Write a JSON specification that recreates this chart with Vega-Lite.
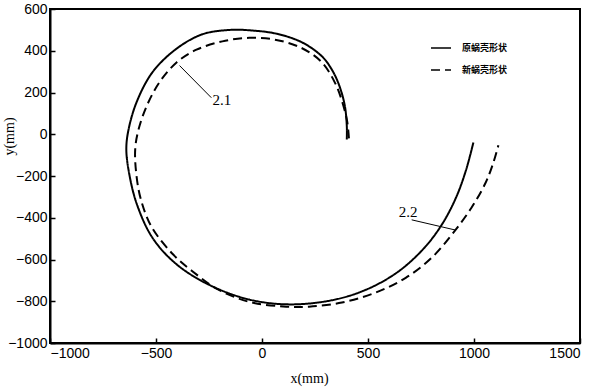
{
  "$schema": "https://vega.github.io/schema/vega-lite/v6.json",
  "width": 530,
  "height": 334,
  "autosize": {"type": "none"},
  "padding": {"left": 50, "top": 9, "right": 20, "bottom": 44},
  "background": "white",
  "config": {
    "view": {"stroke": "black", "strokeWidth": 2},
    "axis": {
      "domainColor": "black",
      "domainWidth": 2,
      "tickColor": "black",
      "tickWidth": 1.5,
      "tickSize": -5,
      "labelPadding": 8,
      "labelFont": "Liberation Sans",
      "labelFontSize": 14,
      "labelColor": "black",
      "format": "d",
      "grid": false,
      "titleFont": "Liberation Serif",
      "titleFontSize": 14,
      "titleFontWeight": "normal",
      "titleColor": "black"
    }
  },
  "datasets": {
    "curves": [
      {"series": "原蜗壳形状", "i": 1, "x": 400, "y": -25},
      {"series": "原蜗壳形状", "i": 2, "x": 400, "y": 40},
      {"series": "原蜗壳形状", "i": 3, "x": 390, "y": 140},
      {"series": "原蜗壳形状", "i": 4, "x": 362, "y": 240},
      {"series": "原蜗壳形状", "i": 5, "x": 328, "y": 312},
      {"series": "原蜗壳形状", "i": 6, "x": 283, "y": 373},
      {"series": "原蜗壳形状", "i": 7, "x": 189, "y": 440},
      {"series": "原蜗壳形状", "i": 8, "x": 67, "y": 482},
      {"series": "原蜗壳形状", "i": 9, "x": -60, "y": 498},
      {"series": "原蜗壳形状", "i": 10, "x": -150, "y": 500},
      {"series": "原蜗壳形状", "i": 11, "x": -281, "y": 479},
      {"series": "原蜗壳形状", "i": 12, "x": -403, "y": 410},
      {"series": "原蜗壳形状", "i": 13, "x": -516, "y": 298},
      {"series": "原蜗壳形状", "i": 14, "x": -591, "y": 155},
      {"series": "原蜗壳形状", "i": 15, "x": -630, "y": 20},
      {"series": "原蜗壳形状", "i": 16, "x": -640, "y": -70},
      {"series": "原蜗壳形状", "i": 17, "x": -628, "y": -180},
      {"series": "原蜗壳形状", "i": 18, "x": -591, "y": -333},
      {"series": "原蜗壳形状", "i": 19, "x": -516, "y": -497},
      {"series": "原蜗壳形状", "i": 20, "x": -403, "y": -623},
      {"series": "原蜗壳形状", "i": 21, "x": -248, "y": -722},
      {"series": "原蜗壳形状", "i": 22, "x": -60, "y": -792},
      {"series": "原蜗壳形状", "i": 23, "x": 130, "y": -815},
      {"series": "原蜗壳形状", "i": 24, "x": 330, "y": -795},
      {"series": "原蜗壳形状", "i": 25, "x": 490, "y": -745},
      {"series": "原蜗壳形状", "i": 26, "x": 640, "y": -660},
      {"series": "原蜗壳形状", "i": 27, "x": 765, "y": -545},
      {"series": "原蜗壳形状", "i": 28, "x": 850, "y": -430},
      {"series": "原蜗壳形状", "i": 29, "x": 915, "y": -304},
      {"series": "原蜗壳形状", "i": 30, "x": 962, "y": -173},
      {"series": "原蜗壳形状", "i": 31, "x": 997, "y": -40},
      {"series": "新蜗壳形状", "i": 1, "x": 410, "y": -20},
      {"series": "新蜗壳形状", "i": 2, "x": 402, "y": 60},
      {"series": "新蜗壳形状", "i": 3, "x": 380, "y": 150},
      {"series": "新蜗壳形状", "i": 4, "x": 345, "y": 245},
      {"series": "新蜗壳形状", "i": 5, "x": 283, "y": 344},
      {"series": "新蜗壳形状", "i": 6, "x": 189, "y": 412},
      {"series": "新蜗壳形状", "i": 7, "x": 67, "y": 452},
      {"series": "新蜗壳形状", "i": 8, "x": -60, "y": 462},
      {"series": "新蜗壳形状", "i": 9, "x": -187, "y": 445},
      {"series": "新蜗壳形状", "i": 10, "x": -309, "y": 405},
      {"series": "新蜗壳形状", "i": 11, "x": -403, "y": 344},
      {"series": "新蜗壳形状", "i": 12, "x": -483, "y": 250},
      {"series": "新蜗壳形状", "i": 13, "x": -544, "y": 135},
      {"series": "新蜗壳形状", "i": 14, "x": -583, "y": 20},
      {"series": "新蜗壳形状", "i": 15, "x": -598, "y": -70},
      {"series": "新蜗壳形状", "i": 16, "x": -594, "y": -180},
      {"series": "新蜗壳形状", "i": 17, "x": -572, "y": -310},
      {"series": "新蜗壳形状", "i": 18, "x": -520, "y": -445},
      {"series": "新蜗壳形状", "i": 19, "x": -420, "y": -575},
      {"series": "新蜗壳形状", "i": 20, "x": -330, "y": -655},
      {"series": "新蜗壳形状", "i": 21, "x": -210, "y": -742},
      {"series": "新蜗壳形状", "i": 22, "x": -60, "y": -803},
      {"series": "新蜗壳形状", "i": 23, "x": 100, "y": -825},
      {"series": "新蜗壳形状", "i": 24, "x": 222, "y": -826},
      {"series": "新蜗壳形状", "i": 25, "x": 377, "y": -806},
      {"series": "新蜗壳形状", "i": 26, "x": 537, "y": -758},
      {"series": "新蜗壳形状", "i": 27, "x": 678, "y": -688},
      {"series": "新蜗壳形状", "i": 28, "x": 800, "y": -592},
      {"series": "新蜗壳形状", "i": 29, "x": 900, "y": -475},
      {"series": "新蜗壳形状", "i": 30, "x": 988, "y": -352},
      {"series": "新蜗壳形状", "i": 31, "x": 1053, "y": -236},
      {"series": "新蜗壳形状", "i": 32, "x": 1090, "y": -140},
      {"series": "新蜗壳形状", "i": 33, "x": 1115, "y": -53}
    ],
    "leaders": [
      {"x": -389, "y": 329, "x2": -239, "y2": 175},
      {"x": 706, "y": -410, "x2": 913, "y2": -459}
    ],
    "labels": [
      {"x": -234, "y": 141, "label": "2.1"},
      {"x": 645, "y": -396, "label": "2.2"}
    ]
  },
  "layer": [
    {
      "data": {"name": "curves"},
      "mark": {"type": "line", "interpolate": "catmull-rom", "strokeWidth": 2, "color": "black"},
      "encoding": {
        "x": {
          "field": "x", "type": "quantitative",
          "scale": {"domain": [-1000, 1500], "nice": false, "zero": false},
          "axis": {"values": [-1000, -500, 0, 500, 1000, 1500], "title": "x(mm)", "titleX": 259, "titleY": 28, "titleBaseline": "top"}
        },
        "y": {
          "field": "y", "type": "quantitative",
          "scale": {"domain": [-1000, 600], "nice": false, "zero": false},
          "axis": {"values": [-1000, -800, -600, -400, -200, 0, 200, 400, 600], "title": "y(mm)", "titleX": -41, "titleY": 127, "titleBaseline": "middle", "titleAngle": -90}
        },
        "order": {"field": "i", "type": "quantitative"},
        "detail": {"field": "series"},
        "strokeDash": {
          "field": "series", "type": "nominal",
          "scale": {"domain": ["原蜗壳形状", "新蜗壳形状"], "range": [[1, 0], [9, 5]]},
          "legend": {
            "title": null, "orient": "none", "legendX": 380, "legendY": 28,
            "symbolType": "stroke", "symbolSize": 400, "symbolStrokeWidth": 1.5,
            "symbolStrokeColor": "black", "rowPadding": 6, "labelOffset": 10,
            "labelFont": "Noto Sans CJK SC", "labelFontSize": 9, "labelFontWeight": "bold",
            "labelColor": "black", "padding": 0
          }
        }
      }
    },
    {
      "data": {"name": "leaders"},
      "mark": {"type": "rule", "color": "black", "strokeWidth": 1},
      "encoding": {
        "x": {"field": "x", "type": "quantitative"},
        "y": {"field": "y", "type": "quantitative"},
        "x2": {"field": "x2"},
        "y2": {"field": "y2"}
      }
    },
    {
      "data": {"name": "labels"},
      "mark": {"type": "text", "align": "left", "baseline": "alphabetic", "font": "Liberation Serif", "fontSize": 15, "color": "black"},
      "encoding": {
        "x": {"field": "x", "type": "quantitative"},
        "y": {"field": "y", "type": "quantitative"},
        "text": {"field": "label"}
      }
    }
  ]
}
